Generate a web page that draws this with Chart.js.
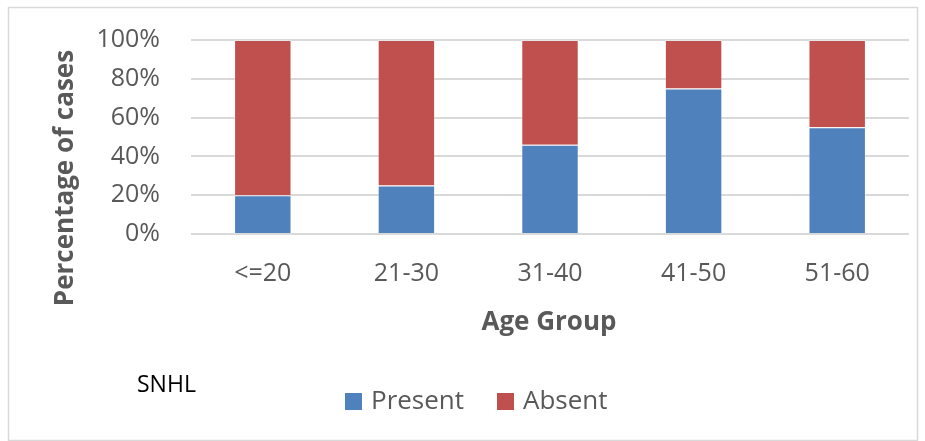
<!DOCTYPE html>
<html>
<head>
<meta charset="utf-8">
<script src="https://cdn.jsdelivr.net/npm/chart.js@4/dist/chart.umd.min.js"></script>
<style>
  html, body { margin: 0; padding: 0; background: #ffffff; }
  #wrap { width: 925px; height: 441px; position: relative; }
</style>
</head>
<body>
<div id="wrap"><canvas id="c" width="925" height="441"></canvas></div>
<script>
// Age groups and share of cases with / without SNHL (percent)
const ageGroups = ['<=20', '21-30', '31-40', '41-50', '51-60'];
const presentPct = [20, 25, 46, 75, 55];
const absentPct = [80, 75, 54, 25, 45];
const yTicks = [0, 20, 40, 60, 80, 100];

const BLUE = '#4F81BD';
const RED = '#C0504D';
const FONT = '"Open Sans", "Noto Sans", sans-serif';

// Frame, axis titles, caption and legend drawn on the canvas
const decorations = {
  id: 'decorations',
  beforeDraw(chart) {
    const ctx = chart.ctx;
    ctx.save();
    ctx.fillStyle = '#ffffff';
    ctx.fillRect(0, 0, chart.width, chart.height);
    ctx.strokeStyle = '#d9d9d9';
    ctx.lineWidth = 1.5;
    ctx.strokeRect(8.5, 7.5, 909, 433);
    ctx.restore();
  },
  afterDraw(chart) {
    const ctx = chart.ctx;
    ctx.save();
    // y-axis title
    ctx.fillStyle = '#595959';
    ctx.font = 'bold 26px ' + FONT;
    ctx.textAlign = 'center';
    ctx.textBaseline = 'middle';
    ctx.translate(66, 178);
    ctx.rotate(-Math.PI / 2);
    ctx.fillText('Percentage of cases', 0, 0);
    ctx.restore();

    ctx.save();
    // x-axis title
    ctx.fillStyle = '#595959';
    ctx.font = 'bold 26px ' + FONT;
    ctx.textAlign = 'center';
    ctx.textBaseline = 'middle';
    ctx.fillText('Age Group', 549, 323);

    // caption
    ctx.fillStyle = '#000000';
    ctx.font = '23px ' + FONT;
    ctx.textAlign = 'left';
    ctx.fillText('SNHL', 137, 385);

    // legend
    const items = [
      { label: chart.data.datasets[0].label, color: BLUE, x: 345 },
      { label: chart.data.datasets[1].label, color: RED, x: 497 }
    ];
    ctx.font = '26px ' + FONT;
    items.forEach(it => {
      ctx.fillStyle = it.color;
      ctx.fillRect(it.x, 393, 17, 17);
      ctx.fillStyle = '#595959';
      ctx.fillText(it.label, it.x + 26, 402);
    });
    ctx.restore();
  }
};

new Chart(document.getElementById('c'), {
  type: 'bar',
  data: {
    labels: ageGroups,
    datasets: [
      {
        label: 'Present',
        data: presentPct,
        backgroundColor: BLUE,
        borderColor: 'rgba(255,255,255,0.35)',
        borderWidth: 1,
        barPercentage: 0.4,
        categoryPercentage: 1
      },
      {
        label: 'Absent',
        data: absentPct,
        backgroundColor: RED,
        borderColor: 'rgba(255,255,255,0.35)',
        borderWidth: 1,
        barPercentage: 0.4,
        categoryPercentage: 1
      }
    ]
  },
  options: {
    responsive: false,
    animation: false,
    devicePixelRatio: 1,
    layout: { padding: { top: 40, right: 16, left: 0, bottom: 0 } },
    plugins: {
      legend: { display: false },
      tooltip: { enabled: false },
      title: { display: false }
    },
    scales: {
      x: {
        stacked: true,
        grid: { display: false, drawTicks: false },
        border: { display: false },
        ticks: {
          color: '#595959',
          font: { family: FONT, size: 25 },
          padding: 25,
          maxRotation: 0
        },
        afterFit(scale) {
          scale.height = 207;
          scale.paddingLeft = 0;
          scale.paddingRight = 0;
        }
      },
      y: {
        stacked: true,
        min: 0,
        max: 100,
        afterBuildTicks(scale) { scale.ticks = yTicks.map(v => ({ value: v })); },
        grid: { color: '#d9d9d9', lineWidth: 2, drawTicks: false },
        border: { display: false },
        ticks: {
          color: '#595959',
          font: { family: FONT, size: 25 },
          padding: 31,
          callback: v => v + '%'
        },
        afterFit(scale) {
          scale.width = 191;
          scale.paddingTop = 0;
          scale.paddingBottom = 0;
        }
      }
    }
  },
  plugins: [decorations]
});
</script>
</body>
</html>
